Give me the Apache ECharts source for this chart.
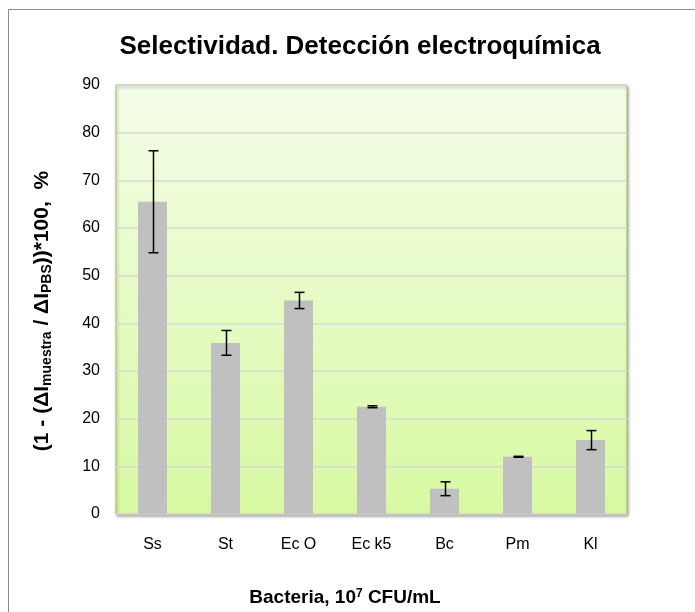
<!DOCTYPE html>
<html><head><meta charset="utf-8">
<script src="https://cdn.jsdelivr.net/npm/echarts@6/dist/echarts.min.js"></script>
<style>html,body{margin:0;padding:0;background:#fff}#c{width:695px;height:612px}</style>
</head><body><div id="c"></div>
<script>
const categories = ['Ss', 'St', 'Ec O', 'Ec k5', 'Bc', 'Pm', 'Kl'];
const values = [65.5, 35.9, 44.8, 22.5, 5.3, 12.0, 15.5];
const errors = [10.7, 2.6, 1.7, 0.2, 1.45, 0.1, 2.0];
const yTicks = [0, 10, 20, 30, 40, 50, 60, 70, 80, 90];

const chart = echarts.init(document.getElementById('c'));
const font = '"Liberation Sans", Arial, sans-serif';
chart.setOption({
  animation: false,
  graphic: [
    { type: 'rect', shape: { x: 8.5, y: 9.5, width: 700, height: 620 }, style: { fill: 'none', stroke: '#8c8c8c', lineWidth: 1 } },
    { type: 'text', x: 42, y: 311, rotation: Math.PI / 2, style: {
      text: '{a|(1 - (ΔI}{s|muestra}{a| / ΔI}{s|PBS}{a|))*100,  %}',
      align: 'center', verticalAlign: 'middle',
      rich: {
        a: { fontFamily: font, fontWeight: 'bold', fontSize: 21, fill: '#000' },
        s: { fontFamily: font, fontWeight: 'bold', fontSize: 14, fill: '#000', padding: [10, 0, 0, 0] }
      }
    } },
    { type: 'text', x: 345, y: 598, style: {
      text: '{a|Bacteria, 10}{p|7}{a| CFU/mL}',
      align: 'center', verticalAlign: 'middle',
      rich: {
        a: { fontFamily: font, fontWeight: 'bold', fontSize: 19, fill: '#000' },
        p: { fontFamily: font, fontWeight: 'bold', fontSize: 12, fill: '#000', padding: [0, 0, 8, 0] }
      }
    } }
  ],
  title: {
    text: 'Selectividad. Detección electroquímica',
    left: 355, top: 29, textAlign: 'center',
    textStyle: { fontFamily: font, fontWeight: 'bold', fontSize: 26, color: '#000' }
  },
  grid: {
    left: 116, right: 68, top: 85, bottom: 98, show: true,
    borderColor: '#a3c46a', borderWidth: 1,
    shadowColor: 'rgba(0,0,0,0.35)', shadowBlur: 3, shadowOffsetX: 1, shadowOffsetY: 2,
    backgroundColor: new echarts.graphic.LinearGradient(0, 0, 0, 1, [
      { offset: 0, color: '#f4fde8' }, { offset: 1, color: '#d8f9a2' }
    ])
  },
  xAxis: {
    type: 'category', data: categories,
    axisLine: { show: false }, axisTick: { show: false },
    axisLabel: { fontFamily: font, fontSize: 16, color: '#000', margin: 23 }
  },
  yAxis: {
    type: 'value', min: 0, max: 90, interval: 10,
    axisLine: { show: false }, axisTick: { show: false },
    splitLine: { lineStyle: { color: '#d9d9d9', width: 1.5 } },
    axisLabel: { fontFamily: font, fontSize: 16, color: '#000', margin: 16,
      formatter: v => yTicks.includes(v) ? String(v) : '' }
  },
  series: [
    { type: 'bar', data: values, barWidth: 29, itemStyle: { color: '#c0c0c0' }, z: 2 },
    { type: 'custom', z: 3,
      data: values.map((v, i) => [i, v - errors[i], v + errors[i]]),
      renderItem: (params, api) => {
        const lo = api.coord([api.value(0), api.value(1)]);
        const hi = api.coord([api.value(0), api.value(2)]);
        const x = Math.round(lo[0]) + 0.5, hw = 5;
        const st = { stroke: '#000', lineWidth: 1.5 };
        return { type: 'group', children: [
          { type: 'line', shape: { x1: x, y1: lo[1], x2: x, y2: hi[1] }, style: st },
          { type: 'line', shape: { x1: x - hw, y1: lo[1], x2: x + hw, y2: lo[1] }, style: st },
          { type: 'line', shape: { x1: x - hw, y1: hi[1], x2: x + hw, y2: hi[1] }, style: st }
        ] };
      }
    }
  ]
});
</script></body></html>
